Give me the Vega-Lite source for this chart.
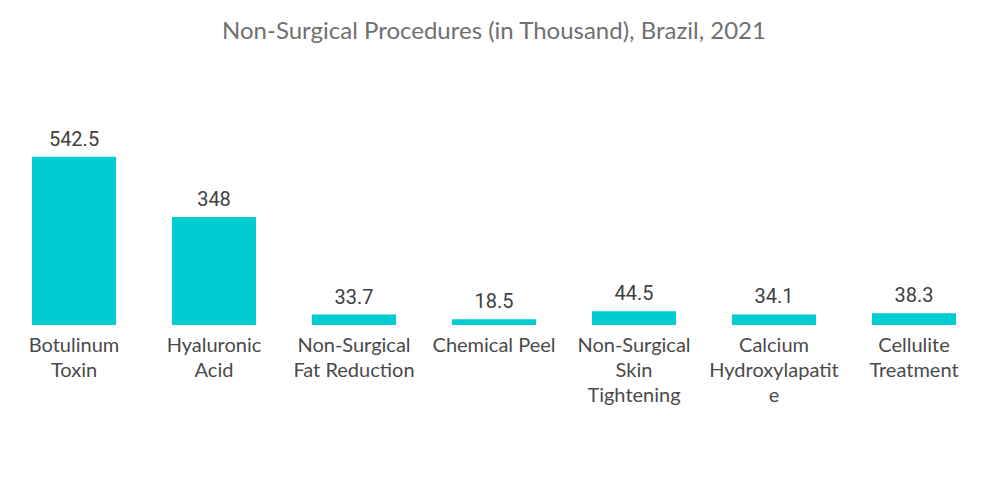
{
  "$schema": "https://vega.github.io/schema/vega-lite/v6.json",
  "autosize": "none",
  "width": 980,
  "height": 248,
  "padding": {"left": 4, "top": 77, "right": 16, "bottom": 179},
  "background": "white",
  "title": {
    "text": "Non-Surgical Procedures (in Thousand), Brazil, 2021",
    "font": "Lato",
    "fontSize": 24,
    "fontWeight": "normal",
    "color": "#707070",
    "anchor": "middle",
    "offset": 33
  },
  "data": {
    "values": [
      {"category": "Botulinum Toxin", "label": "Botulinum|Toxin", "value": 542.5},
      {"category": "Hyaluronic Acid", "label": "Hyaluronic|Acid", "value": 348},
      {"category": "Non-Surgical Fat Reduction", "label": "Non-Surgical|Fat Reduction", "value": 33.7},
      {"category": "Chemical Peel", "label": "Chemical Peel", "value": 18.5},
      {"category": "Non-Surgical Skin Tightening", "label": "Non-Surgical|Skin|Tightening", "value": 44.5},
      {"category": "Calcium Hydroxylapatite", "label": "Calcium|Hydroxylapatit|e", "value": 34.1},
      {"category": "Cellulite Treatment", "label": "Cellulite|Treatment", "value": 38.3}
    ]
  },
  "encoding": {
    "x": {
      "field": "label",
      "type": "nominal",
      "sort": null,
      "scale": {"paddingInner": 0.4, "paddingOuter": 0.2},
      "axis": {
        "title": null,
        "domain": false,
        "ticks": false,
        "labelAngle": 0,
        "labelExpr": "split(datum.label, '|')",
        "labelFont": "Lato",
        "labelFontSize": 20,
        "labelColor": "#4a4a4a",
        "labelLineHeight": 25,
        "labelPadding": 10,
        "labelBaseline": "top"
      }
    },
    "y": {
      "field": "value",
      "type": "quantitative",
      "scale": {"domain": [0, 800]},
      "axis": null
    }
  },
  "layer": [
    {"mark": {"type": "bar", "color": "#00CDD1"}},
    {
      "mark": {"type": "text", "dy": -17, "font": "Roboto", "fontSize": 20, "color": "#404040", "baseline": "middle"},
      "encoding": {"text": {"field": "value", "type": "quantitative"}}
    }
  ],
  "config": {"view": {"stroke": null}}
}
